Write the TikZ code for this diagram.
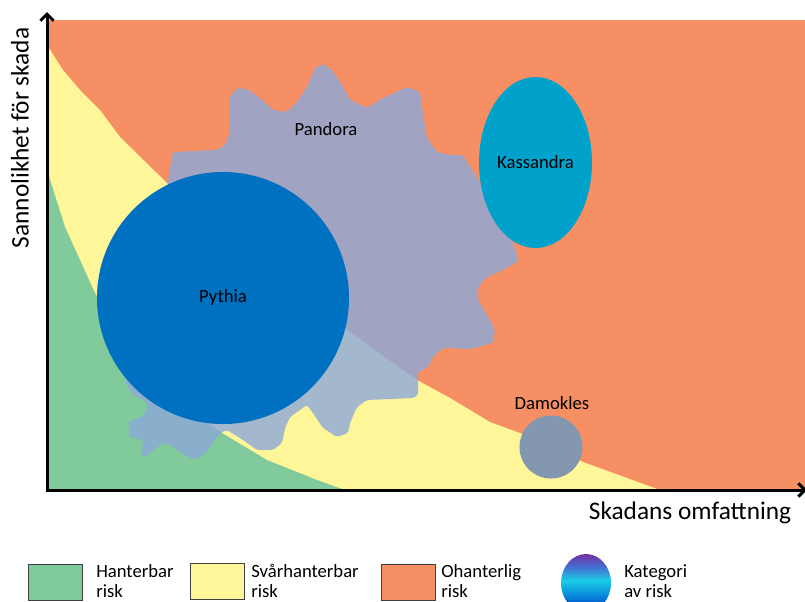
\documentclass[tikz,border=0pt]{standalone}
\usepackage{fontspec}
\setmainfont{Carlito}
\usetikzlibrary{shapes.geometric,arrows.meta}
\definecolor{riskgreen}{RGB}{128,202,156}
\definecolor{riskyellow}{RGB}{255,245,153}
\definecolor{riskorange}{RGB}{246,143,99}
\definecolor{gearblue}{RGB}{140,169,218}
\definecolor{pythiablue}{RGB}{0,112,192}
\definecolor{kassandrablue}{RGB}{0,162,203}
\definecolor{damoklesgray}{RGB}{132,151,176}
\definecolor{legendgray}{RGB}{64,64,64}
\definecolor{catpurple}{RGB}{112,48,160}
\definecolor{catviolet}{RGB}{70,110,210}
\definecolor{catcyan}{RGB}{25,205,230}
\definecolor{catblue}{RGB}{0,100,210}
\pgfdeclareverticalshading{catshade}{100bp}{color(0bp)=(catblue); color(33bp)=(catblue);
  color(52bp)=(catcyan); color(64bp)=(catviolet); color(75bp)=(catpurple); color(100bp)=(catpurple)}
\begin{document}
\begin{tikzpicture}[x=0.75pt,y=-0.75pt,
  lbl/.style={font=\fontsize{14}{16}\selectfont},
  axislbl/.style={font=\fontsize{19}{22}\selectfont},
  axisline/.style={line width=2.25pt,{Straight Barb[length=5pt,width=10pt]}-{Straight Barb[length=5pt,width=10pt]}},
  legendbox/.style={draw=legendgray,line width=0.75pt,minimum width=40.5pt,minimum height=27pt,anchor=north west,inner sep=0pt},
  legendtxt/.style={font=\fontsize{14}{15.5}\selectfont,anchor=west,align=left,inner sep=0pt}]
\useasboundingbox (0,0) rectangle (805,601);
\fill[riskorange] (47,20) rectangle (805,490);
\fill[riskyellow] (47,490) -- (47,45) -- (63,70) -- (80,90) -- (100,110) -- (120,137) -- (167,183)
  -- (347,330) -- (417,380) -- (450,398) -- (490,422) -- (520,433) -- (583,462) -- (660,490) -- cycle;
\fill[riskgreen] (47,490) -- (47,170) -- (65,227) -- (80,260) -- (95,293) -- (140,370) -- (222,433)
  -- (267,460) -- (317,480) -- (345,490) -- cycle;
\fill[gearblue,opacity=0.8,rounded corners=1.5pt] (140,300) -- (165,200) -- (170,168) -- (173,152)
  -- (217,150) -- (225,145) -- (230,132) -- (229,98) -- (237,88) -- (247,89) -- (260,98) -- (273,110)
  -- (287,112) -- (297,102) -- (307,87) -- (315,68) -- (323,64) -- (332,70) -- (342,85) -- (350,100)
  -- (367,108) -- (383,98) -- (407,87) -- (420,92) -- (423,115) -- (427,138) -- (437,152) -- (450,155)
  -- (463,155) -- (480,183) -- (512,240) -- (519,261) -- (503,270) -- (487,277) -- (478,287) -- (478,300)
  -- (490,320) -- (495,330) -- (493,343) -- (470,349) -- (443,348) -- (433,357) -- (428,367) -- (418,372)
  -- (418,395) -- (413,398) -- (367,400) -- (357,407) -- (350,423) -- (348,433) -- (337,437) -- (323,428)
  -- (313,413) -- (307,405) -- (290,417) -- (285,428) -- (282,443) -- (273,450) -- (257,450) -- (243,440)
  -- (227,430) -- (220,433) -- (210,447) -- (200,458) -- (190,458) -- (180,452) -- (167,443) -- (160,445)
  -- (150,453) -- (143,458) -- (142,450) -- (143,440) -- (130,437) -- (128,423) -- (132,420) -- (142,417)
  -- (147,410) -- (147,402) -- (137,397) -- (132,393) -- (125,383) -- (128,370) -- cycle;
\node[circle,fill=pythiablue,minimum size=189pt,inner sep=0pt,lbl] (pythia) at (223,298) {Pythia};
\node[ellipse,fill=kassandrablue,minimum width=84.75pt,minimum height=128.25pt,inner sep=0pt,lbl] (kassandra) at (535.5,162.5) {Kassandra};
\node[circle,fill=damoklesgray,minimum size=47.25pt,inner sep=0pt] (damokles) at (551,447) {};
\node[lbl] (pandora) at (326,129) {Pandora};
\node[lbl] (damokleslbl) at (552,403) {Damokles};
\coordinate (origin) at (47,490);
\coordinate (ytop) at (47,12);
\coordinate (xend) at (807,490);
\draw[axisline] (ytop) -- (origin) -- (xend);
\node[axislbl] (xlbl) at (690,513) {Skadans omfattning};
\node[axislbl,rotate=90] (ylbl) at (20,138) {Sannolikhet för skada};
\node[legendbox,fill=riskgreen] (greenbox) at (28,564) {};
\node[legendbox,fill=riskyellow] (yellowbox) at (190,563) {};
\node[legendbox,fill=riskorange] (orangebox) at (381,564) {};
\node[ellipse,minimum width=37.5pt,minimum height=43.5pt,inner sep=0pt,shading=catshade] (catshape) at (586,583) {};
\node[legendtxt] (hanterbar) at (96,581) {Hanterbar\\risk};
\node[legendtxt] (svarhanterbar) at (251,581) {Svårhanterbar\\risk};
\node[legendtxt] (ohanterlig) at (441,581) {Ohanterlig\\risk};
\node[legendtxt] (kategori) at (624,581) {Kategori\\av risk};
\end{tikzpicture}
\end{document}
